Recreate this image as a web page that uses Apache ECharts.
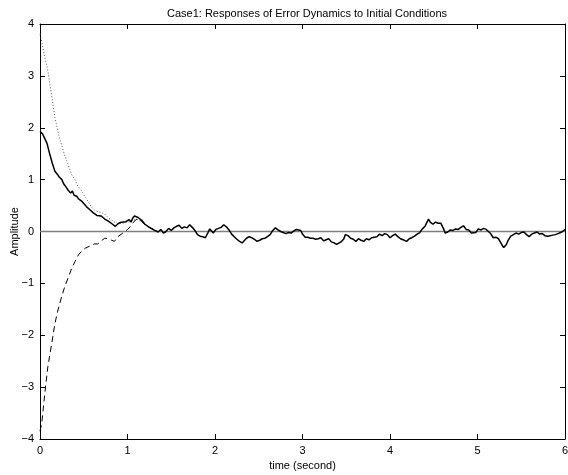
<!DOCTYPE html>
<html><head><meta charset="utf-8">
<script src="https://cdn.jsdelivr.net/npm/echarts@6/dist/echarts.min.js"></script>
<style>html,body{margin:0;padding:0;background:#fff}#c{width:568px;height:475px}</style>
</head><body><div id="c"></div>
<script>
var titleText = 'Case1: Responses of Error Dynamics to Initial Conditions';
var xName = 'time (second)';
var yName = 'Amplitude';
var xTicks = [0,1,2,3,4,5,6];
var yTicks = [-4,-3,-2,-1,0,1,2,3,4];

var solidT = [0.00,0.03,0.06,0.08,0.11,0.14,0.17,0.20,0.22,0.25,0.27,0.30,0.32,0.35,0.37,0.39,0.42,0.44,0.46,0.48,0.50,0.53,0.55,0.57,0.59,0.61,0.63,0.65,0.67,0.70,0.72,0.74,0.76,0.78,0.80,0.83,0.86,0.88,0.90,0.93,0.95,0.98,1.00,1.02,1.04,1.06,1.08,1.10,1.12,1.14,1.16,1.18,1.20,1.22,1.25,1.27,1.30,1.32,1.35,1.38,1.41,1.44,1.47,1.50,1.53,1.56,1.59,1.62,1.65,1.68,1.71,1.74,1.77,1.80,1.83,1.86,1.89,1.92,1.94,1.96,1.98,2.01,2.04,2.07,2.10,2.13,2.16,2.19,2.22,2.25,2.28,2.31,2.33,2.36,2.39,2.42,2.45,2.48,2.51,2.54,2.57,2.60,2.63,2.66,2.69,2.72,2.75,2.78,2.81,2.84,2.87,2.90,2.93,2.95,2.98,3.00,3.03,3.06,3.09,3.12,3.15,3.18,3.21,3.24,3.27,3.30,3.33,3.36,3.39,3.41,3.44,3.47,3.49,3.52,3.55,3.58,3.61,3.64,3.67,3.70,3.73,3.76,3.79,3.82,3.85,3.88,3.91,3.94,3.97,4.00,4.03,4.06,4.09,4.12,4.15,4.19,4.22,4.25,4.28,4.31,4.34,4.37,4.40,4.42,4.44,4.46,4.49,4.52,4.55,4.58,4.61,4.63,4.66,4.69,4.72,4.75,4.78,4.81,4.84,4.87,4.90,4.93,4.95,4.98,5.01,5.04,5.07,5.10,5.12,5.15,5.18,5.21,5.24,5.26,5.28,5.30,5.33,5.35,5.38,5.41,5.44,5.47,5.50,5.53,5.56,5.59,5.62,5.65,5.68,5.71,5.74,5.77,5.80,5.83,5.86,5.89,5.92,5.95,5.98,6.00];
var solidY = [1.93,1.88,1.77,1.70,1.50,1.32,1.16,1.10,1.05,1.00,0.92,0.85,0.80,0.74,0.78,0.70,0.68,0.63,0.62,0.58,0.56,0.48,0.46,0.42,0.40,0.36,0.36,0.31,0.34,0.30,0.33,0.24,0.26,0.20,0.20,0.14,0.10,0.10,0.16,0.18,0.20,0.19,0.22,0.23,0.18,0.26,0.30,0.33,0.27,0.29,0.22,0.20,0.14,0.12,0.08,0.07,0.03,0.06,-0.01,0.04,-0.03,0.00,0.06,0.02,0.07,0.10,0.12,0.06,0.09,0.07,0.13,0.08,0.02,-0.06,-0.09,-0.10,-0.12,-0.02,0.05,0.01,-0.03,0.04,0.06,0.08,0.13,0.09,0.03,-0.05,-0.10,-0.15,-0.19,-0.22,-0.20,-0.13,-0.10,-0.12,-0.15,-0.19,-0.17,-0.14,-0.13,-0.10,-0.06,0.02,0.07,0.03,0.00,-0.02,-0.04,-0.02,-0.03,0.01,0.04,0.07,0.02,-0.05,-0.11,-0.11,-0.13,-0.13,-0.15,-0.14,-0.12,-0.18,-0.16,-0.14,-0.20,-0.22,-0.25,-0.28,-0.20,-0.15,-0.06,-0.08,-0.13,-0.15,-0.19,-0.14,-0.17,-0.19,-0.14,-0.16,-0.12,-0.11,-0.10,-0.05,-0.08,-0.04,-0.06,-0.12,-0.08,-0.05,-0.10,-0.14,-0.16,-0.19,-0.14,-0.12,-0.09,-0.05,-0.02,0.05,0.10,0.17,0.24,0.18,0.14,0.18,0.16,0.16,0.06,-0.03,-0.01,0.03,0.02,0.05,0.04,0.08,0.11,0.04,0.03,-0.03,-0.06,-0.02,0.05,0.03,0.06,0.04,0.07,-0.04,-0.12,-0.11,-0.14,-0.16,-0.26,-0.31,-0.25,-0.17,-0.09,-0.06,-0.03,-0.05,-0.02,-0.01,-0.06,-0.10,-0.05,-0.03,-0.01,-0.05,-0.04,-0.08,-0.09,-0.08,-0.07,-0.06,-0.04,-0.02,0.01,0.04];

var dottedT = [0.00,0.015,0.05,0.09,0.13,0.17,0.22,0.28,0.32,0.36,0.40,0.43,0.47,0.51,0.55,0.59,0.63,0.67,0.70,0.74,0.78,0.82,0.86,0.90,0.95,1.00,1.05,1.10,1.15,1.20,1.25,1.30];
var dottedY = [3.80,3.69,3.40,3.10,2.65,2.20,1.82,1.48,1.30,1.10,1.00,0.88,0.80,0.68,0.58,0.47,0.40,0.38,0.36,0.34,0.26,0.22,0.17,0.15,0.16,0.18,0.20,0.24,0.20,0.13,0.08,0.04];

var dashedT = [0.00,0.02,0.035,0.055,0.09,0.13,0.17,0.20,0.24,0.28,0.32,0.36,0.40,0.44,0.48,0.52,0.57,0.62,0.66,0.70,0.74,0.78,0.82,0.85,0.89,0.93,0.97,1.00,1.03,1.06,1.09,1.12,1.16,1.20,1.25,1.30];
var dashedY = [-3.85,-3.70,-3.45,-3.12,-2.60,-2.20,-1.78,-1.55,-1.30,-1.08,-0.90,-0.72,-0.58,-0.45,-0.37,-0.32,-0.28,-0.24,-0.24,-0.18,-0.13,-0.14,-0.17,-0.19,-0.10,-0.05,0.00,0.04,0.09,0.16,0.22,0.25,0.20,0.13,0.08,0.04];

var zeroT = [0, 6];
var zeroY = [0, 0];

function zip(a, b) { return a.map(function (v, i) { return [v, b[i]]; }); }
function fmt(v) { return String(v).replace('-', '\u2212'); }

var font = 'Liberation Sans, Arial, Helvetica, sans-serif';
var axisCommon = {
  axisLine: { show: true, onZero: false, lineStyle: { color: '#000', width: 1 } },
  axisTick: { show: true, inside: true, length: 5, lineStyle: { color: '#000', width: 1 } },
  splitLine: { show: false }
};

var chart = echarts.init(document.getElementById('c'), null, { renderer: 'canvas' });
chart.setOption({
  animation: false,
  backgroundColor: '#fff',
  title: {
    text: titleText, left: 302, top: 3, textAlign: 'center',
    textStyle: { fontFamily: font, fontSize: 11, fontWeight: 'normal', color: '#000' }
  },
  grid: { left: 40, right: 3, top: 24, bottom: 36, containLabel: false, outerBoundsMode: 'none' },
  xAxis: [
    Object.assign({
      type: 'value', min: xTicks[0], max: xTicks[xTicks.length - 1], interval: 1, position: 'bottom',
      name: xName, nameLocation: 'middle', nameGap: 21, nameMoveOverlap: false,
      nameTextStyle: { fontFamily: font, fontSize: 11, color: '#000' },
      axisLabel: { fontFamily: font, fontSize: 11, color: '#000', margin: 6, formatter: fmt }
    }, axisCommon),
    Object.assign({
      type: 'value', min: xTicks[0], max: xTicks[xTicks.length - 1], interval: 1, position: 'top',
      axisLabel: { show: false }
    }, axisCommon)
  ],
  yAxis: [
    Object.assign({
      type: 'value', min: yTicks[0], max: yTicks[yTicks.length - 1], interval: 1, position: 'left',
      name: yName, nameLocation: 'middle', nameGap: 20, nameMoveOverlap: false,
      nameTextStyle: { fontFamily: font, fontSize: 11, color: '#000' },
      axisLabel: { fontFamily: font, fontSize: 11, color: '#000', margin: 6, formatter: fmt }
    }, axisCommon),
    Object.assign({
      type: 'value', min: yTicks[0], max: yTicks[yTicks.length - 1], interval: 1, position: 'right',
      axisLabel: { show: false }
    }, axisCommon)
  ],
  series: [
    { type: 'line', data: zip(zeroT, zeroY), showSymbol: false, silent: true, z: 1,
      lineStyle: { color: '#7f7f7f', width: 1.5 } },
    { type: 'line', data: zip(dottedT, dottedY), showSymbol: false, z: 2,
      lineStyle: { color: '#555', width: 1, type: [1, 2] } },
    { type: 'line', data: zip(dashedT, dashedY), showSymbol: false, z: 3,
      lineStyle: { color: '#000', width: 1, type: [6, 4] } },
    { type: 'line', data: zip(solidT, solidY), showSymbol: false, z: 4,
      lineStyle: { color: '#000', width: 1.5 } }
  ]
});
</script></body></html>
